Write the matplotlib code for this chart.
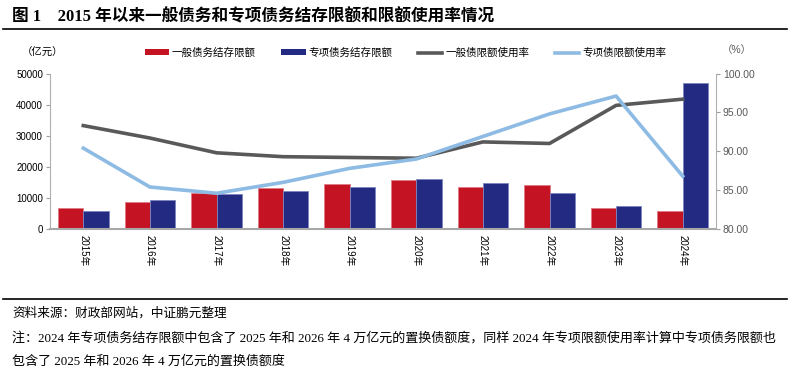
import matplotlib
matplotlib.use("Agg")
import matplotlib.pyplot as plt
import numpy as np
from matplotlib.patches import Patch
from matplotlib.lines import Line2D

plt.rcParams['font.family'] = ['Liberation Sans', 'Noto Sans CJK SC']

years = ["2015年", "2016年", "2017年", "2018年", "2019年",
         "2020年", "2021年", "2022年", "2023年", "2024年"]
general_remaining = [6650, 8800, 11500, 13300, 14400, 15600, 13400, 14300, 6900, 5700]
special_remaining = [5850, 9400, 11300, 12100, 13400, 16000, 14700, 11500, 7500, 46900]
general_usage = [93.3, 91.7, 89.8, 89.3, 89.2, 89.1, 91.2, 91.0, 95.9, 96.7]
special_usage = [90.4, 85.4, 84.6, 86.0, 87.8, 89.0, 91.9, 94.8, 97.1, 86.8]

labels = ["一般债务结存限额", "专项债务结存限额", "一般债限额使用率", "专项债限额使用率"]

RED = "#C41424"
BLUE = "#222A82"
GREY = "#595959"
LBLUE = "#8DBBE3"

W, H = 790, 370
fig = plt.figure(figsize=(W / 100, H / 100), dpi=100)

ax = fig.add_axes([50 / W, 1 - 229 / H, (716 - 50) / W, (229 - 73.5) / H])
x = np.arange(len(years))
bw = 0.38
ax.bar(x - bw / 2, general_remaining, bw, color=RED, edgecolor="#E07A84", linewidth=0.6, zorder=2)
ax.bar(x + bw / 2, special_remaining, bw, color=BLUE, edgecolor="#7E84BE", linewidth=0.6, zorder=2)
ax.set_xlim(-0.5, len(years) - 0.5)
ax.set_ylim(0, 50000)
ax.set_yticks(np.arange(0, 50001, 10000))
ax.tick_params(axis='y', labelsize=7, length=3, color="#A0A0A0", pad=2)
ax.set_xticks(x)
ax.set_xticklabels(years, rotation=270, fontsize=7)
ax.tick_params(axis='x', length=0, pad=4)
for s in ["top", "right"]:
    ax.spines[s].set_visible(False)
ax.spines["left"].set_color("#B0B0B0")
ax.spines["bottom"].set_color("#A8A8A8")
ax.spines["bottom"].set_linewidth(1.5)

ax2 = ax.twinx()
ax2.plot(x, general_usage, color=GREY, lw=2.6, zorder=3)
ax2.plot(x, special_usage, color=LBLUE, lw=2.6, zorder=3)
ax2.set_ylim(80, 100)
ax2.set_yticks(np.arange(80, 100.01, 5))
ax2.set_yticklabels([f"{v:.2f}" for v in np.arange(80, 100.01, 5)])
ax2.tick_params(axis='y', labelsize=7.5, length=3, color="#A0A0A0", labelcolor="#595959", pad=2)
for s in ["top", "left", "bottom"]:
    ax2.spines[s].set_visible(False)
ax2.spines["right"].set_color("#B0B0B0")

# Legend
handles = [Patch(facecolor=RED), Patch(facecolor=BLUE),
           Line2D([], [], color=GREY, lw=2.6), Line2D([], [], color=LBLUE, lw=2.6)]
fig.legend(handles, labels, loc="center left", bbox_to_anchor=(135 / W, 1 - 53 / H),
           ncol=4, frameon=False, fontsize=7.6, handlelength=2.3, handleheight=0.5,
           columnspacing=2.4, handletextpad=0.3)

fig.text(22 / W, 1 - 53 / H, "（亿元）", fontsize=7.5, va="center", ha="left")
fig.text(722 / W, 1 - 50 / H, "（%）", fontsize=7.5, va="center", ha="left", color="#595959")

# Title
serif = ['Liberation Serif', 'Noto Sans CJK SC']
fig.text(12 / W, 1 - 17 / H, "图 1    2015 年以来一般债务和专项债务结存限额和限额使用率情况",
         fontsize=12, fontweight="bold", family=serif, va="center", ha="left")
fig.add_artist(Line2D([3 / W, 787 / W], [1 - 28.5 / H, 1 - 28.5 / H], color="black", lw=1.2))
fig.add_artist(Line2D([3 / W, 787 / W], [1 - 298.5 / H, 1 - 298.5 / H], color="black", lw=1.2))

fig.text(12 / W, 1 - 313 / H, "资料来源：财政部网站，中证鹏元整理", fontsize=9.1, family=serif, va="center")
fig.text(12 / W, 1 - 338 / H,
         "注：2024 年专项债务结存限额中包含了 2025 年和 2026 年 4 万亿元的置换债额度，同样 2024 年专项限额使用率计算中专项债务限额也",
         fontsize=9.4, family=serif, va="center")
fig.text(12 / W, 1 - 362 / H, "包含了 2025 年和 2026 年 4 万亿元的置换债额度", fontsize=9.4, family=serif, va="center")

fig.savefig("out.png", dpi=100)
